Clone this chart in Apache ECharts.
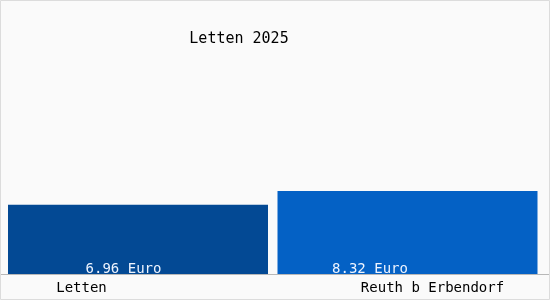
<!DOCTYPE html>
<html>
<head>
<meta charset="utf-8">
<script src="https://cdn.jsdelivr.net/npm/echarts@6/dist/echarts.min.js"></script>
<style>
html,body{margin:0;padding:0;background:#fafafa;}
#c{width:550px;height:300px;}
</style>
</head>
<body>
<div id="c"></div>
<script>
var titleText = 'Letten 2025';
var categories = ['Letten', 'Reuth b Erbendorf'];
var values = [6.96, 8.32];
var unit = 'Euro';
var barColors = ['#034994', '#0461c5'];

var chart = echarts.init(document.getElementById('c'), null, {renderer: 'canvas'});
var font = '"DejaVu Sans Mono", monospace';
chart.setOption({
  backgroundColor: '#fafafa',
  animation: false,
  title: {
    text: titleText,
    left: 234, top: 27, textAlign: 'center',
    textStyle: {fontFamily: font, fontSize: 15, fontWeight: 'normal', color: '#000'}
  },
  grid: {left: 3.25, right: 7.75, top: 10, bottom: 26},
  xAxis: {
    type: 'category',
    data: categories.map(function (c, i) {
      return {
        value: c,
        textStyle: i === 0 ? {padding: [0, 113, 0, 0]} : {padding: [0, 0, 0, 50]}
      };
    }),
    axisLine: {show: false},
    axisTick: {show: false},
    axisLabel: {fontFamily: font, fontSize: 14, color: '#000', margin: 7}
  },
  yAxis: {type: 'value', min: 0, max: 26.5, show: false, splitLine: {show: false}},
  series: [{
    type: 'bar',
    barWidth: 260,
    data: values.map(function (v, i) {
      return {
        value: v,
        itemStyle: {color: barColors[i]},
        label: {offset: [i === 0 ? -14.5 : -37.5, 2]}
      };
    }),
    label: {
      show: true,
      position: 'insideBottom',
      distance: 0,
      fontFamily: font, fontSize: 14, color: '#eef4ff',
      formatter: function (p) { return p.value.toFixed(2) + ' ' + unit; }
    }
  }],
  graphic: [
    {type: 'line', shape: {x1: 0, y1: 274.5, x2: 550, y2: 274.5}, style: {stroke: '#b8b8b8', lineWidth: 1}, z: 10},
    {type: 'rect', shape: {x: 0.5, y: 0.5, width: 549, height: 299}, style: {fill: null, stroke: '#dcdcdc', lineWidth: 1}, z: 10}
  ]
});
</script>
</body>
</html>
